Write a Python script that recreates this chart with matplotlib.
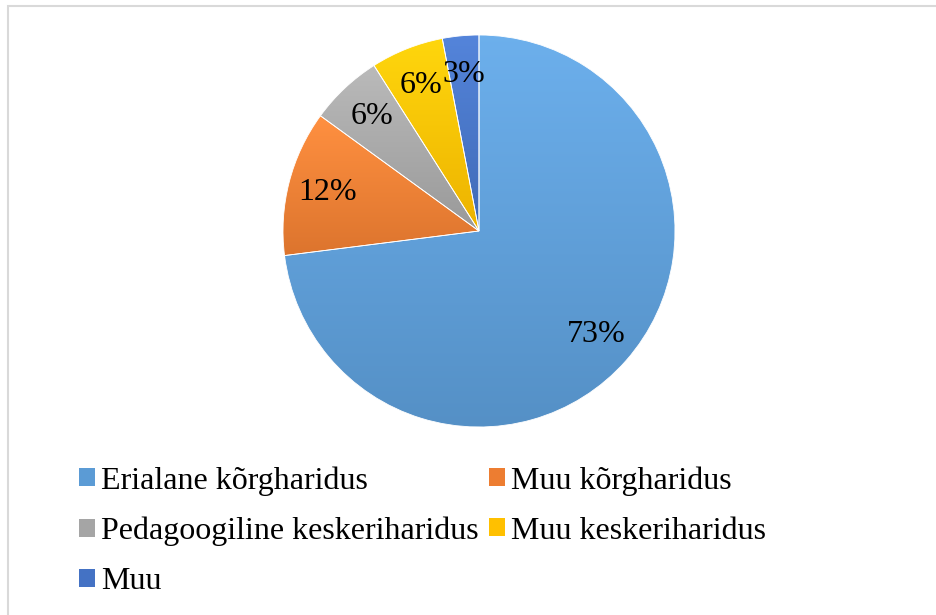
import numpy as np
import matplotlib
matplotlib.use("Agg")
from matplotlib import pyplot as plt
from matplotlib.patches import Patch, Rectangle
from matplotlib.colors import to_rgb

# andmed
labels = ["Erialane kõrgharidus", "Muu kõrgharidus", "Pedagoogiline keskeriharidus",
          "Muu keskeriharidus", "Muu"]
values = [73, 12, 6, 6, 3]
colors = ["#5B9BD5", "#ED7D31", "#A5A5A5", "#FFC000", "#4472C4"]

plt.rcParams['font.family'] = ['Liberation Serif', 'DejaVu Serif']

W, H = 936, 615
fig = plt.figure(figsize=(W/100., H/100.), dpi=100)

# pie centre (479, 231) px, radius 196 px
cx, cy, R = 479., 231., 196.
ax = fig.add_axes([(cx-R)/W, (H-cy-R)/H, 2*R/W, 2*R/H])

wedges, texts, autotexts = ax.pie(values, colors=colors, startangle=90,
                                  counterclock=False, autopct='%.0f%%',
                                  pctdistance=0.8, radius=1,
                                  wedgeprops=dict(edgecolor='white', linewidth=0.6),
                                  textprops=dict(fontsize=23, color='black'))

# light-to-dark vertical gradient for each slice
for w, c in zip(wedges, colors):
    rgb = np.array(to_rgb(c))
    top = np.clip(rgb*1.05 + 0.05, 0, 1)
    bot = rgb*0.93
    t = np.linspace(0, 1, 256)[:, None]
    img = (top*(1-t) + bot*t)[:, None, :]
    bb = w.get_path().get_extents(w.get_patch_transform())
    im = ax.imshow(img, extent=[bb.x0, bb.x1, bb.y0, bb.y1], aspect='auto',
                   zorder=w.get_zorder()-0.01)
    im.set_clip_path(w)
    w.set_facecolor('none')

ax.set_xlim(-1, 1)
ax.set_ylim(-1, 1)
ax.set_aspect('equal')
ax.axis('off')

# legend, row-wise order
order = [0, 2, 4, 1, 3]
handles = [Patch(facecolor=colors[i], edgecolor='none') for i in order]
fig.legend(handles, [labels[i] for i in order], ncol=2, loc='upper left',
           bbox_to_anchor=(79/W, 1-466/H), frameon=False, fontsize=23,
           handlelength=0.5, handleheight=0.5, handletextpad=0.2,
           columnspacing=0.3, labelspacing=0.66, borderpad=0, borderaxespad=0)

# chart area frame
fig.patches.append(Rectangle((8/W, -0.1), 2, 1.1-6/H, transform=fig.transFigure,
                             facecolor='none', edgecolor='#d9d9d9', linewidth=1.5))

fig.savefig('out.png', dpi=100)
